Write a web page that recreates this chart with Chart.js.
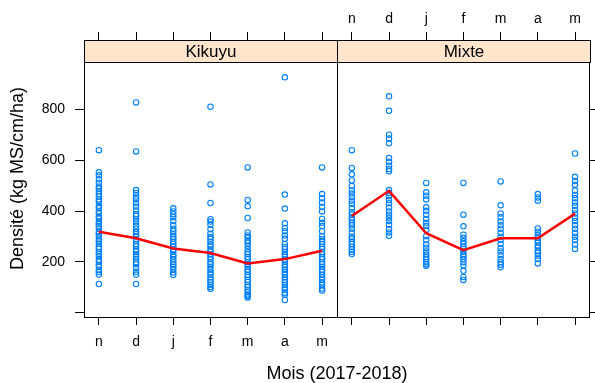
<!DOCTYPE html>
<html>
<head>
<meta charset="utf-8">
<script src="https://cdn.jsdelivr.net/npm/chart.js@4.4.0/dist/chart.umd.min.js"></script>
<style>
  body { margin: 0; background: #fff; }
  canvas { display: block; }
</style>
</head>
<body>
<canvas id="myChart" width="595" height="383"></canvas>
<script>
// month labels (Nov 2017 -> May 2018)
var months = ["n", "d", "j", "f", "m", "a", "m"];
var panels = ["Kikuyu", "Mixte"];
var yTicks = [0, 200, 400, 600, 800];

// observations per month, Kikuyu
var kikN = [640, 553, 541, 526, 512, 497, 489, 478, 467, 458, 446, 437, 421, 412, 398, 391, 379, 372, 358, 349, 341, 332, 318, 311, 302, 288, 281, 272, 259, 251, 238, 231, 222, 208, 201, 188, 182, 168, 160, 150, 113];
var kikD = [828, 635, 483, 471, 458, 447, 431, 418, 402, 389, 381, 368, 356, 342, 331, 318, 309, 301, 289, 282, 271, 262, 249, 241, 229, 221, 212, 199, 191, 176, 161, 150, 113];
var kikJ = [411, 399, 388, 376, 361, 344, 331, 322, 309, 298, 291, 279, 271, 262, 249, 241, 228, 221, 211, 199, 189, 181, 171, 158, 148];
var kikF = [811, 505, 432, 368, 359, 346, 329, 311, 298, 291, 279, 268, 261, 249, 241, 229, 219, 211, 198, 191, 181, 169, 158, 151, 139, 129, 121, 109, 101, 94];
var kikM = [572, 444, 419, 373, 316, 304, 296, 284, 276, 264, 251, 239, 231, 219, 211, 199, 191, 181, 169, 161, 149, 141, 129, 121, 109, 101, 89, 81, 72, 66, 60];
var kikA = [927, 465, 410, 352, 334, 321, 304, 291, 271, 259, 251, 239, 229, 221, 209, 201, 189, 181, 169, 159, 151, 139, 129, 121, 109, 99, 91, 79, 71, 50];
var kikM2 = [572, 467, 451, 434, 416, 399, 369, 354, 341, 321, 301, 289, 279, 271, 259, 251, 239, 231, 219, 211, 199, 191, 181, 169, 161, 149, 139, 131, 119, 109, 95, 87];

// observations per month, Mixte
var mixN = [640, 570, 545, 521, 499, 481, 469, 456, 441, 429, 411, 396, 386, 374, 366, 354, 344, 331, 316, 299, 291, 279, 271, 259, 249, 240, 231];
var mixD = [852, 795, 701, 686, 667, 609, 594, 579, 566, 557, 483, 471, 459, 444, 431, 414, 399, 386, 374, 361, 346, 329, 316, 303];
var mixJ = [511, 474, 461, 446, 415, 401, 386, 369, 354, 341, 326, 301, 286, 269, 256, 241, 229, 219, 211, 199, 191, 185];
var mixF = [511, 386, 340, 307, 294, 281, 271, 259, 251, 241, 229, 221, 211, 199, 186, 165, 141, 129];
var mixM = [517, 423, 391, 376, 359, 344, 331, 314, 299, 286, 271, 254, 241, 226, 211, 199, 189, 179];
var mixA = [467, 454, 441, 332, 319, 306, 294, 284, 276, 264, 256, 244, 236, 224, 211, 194];
var mixM2 = [627, 535, 519, 504, 481, 464, 451, 434, 421, 404, 391, 374, 361, 344, 331, 314, 299, 286, 269, 251];

// red line: monthly average per panel
var kikMean = [319, 293, 253, 235, 194, 211, 244];
var mixMean = [381, 480, 313, 246, 293, 293, 390];

var kikuyu = [kikN, kikD, kikJ, kikF, kikM, kikA, kikM2];
var mixte = [mixN, mixD, mixJ, mixF, mixM, mixA, mixM2];

// each panel spans 6.8 x-units; second panel shifted by 6.8
var SHIFT = 6.8;
var X_MIN = 0.6, X_MAX = 0.6 + 2 * SHIFT;
var Y_MIN = -17, Y_MAX = 1074;

var tickPos = [];
for (var p = 0; p < 2; p++) {
  for (var i = 0; i < months.length; i++) tickPos.push(i + 1 + p * SHIFT);
}

function points(groups, offset) {
  var out = [];
  groups.forEach(function (vals, i) {
    vals.forEach(function (v) { out.push({ x: i + 1 + offset, y: v }); });
  });
  return out;
}
function meanLine(vals, offset) {
  return vals.map(function (v, i) { return { x: i + 1 + offset, y: v }; });
}

var pointStyle = {
  type: "scatter",
  pointRadius: 2.7,
  pointBorderWidth: 1.1,
  borderColor: "#0080ff",
  backgroundColor: "rgba(0,0,0,0)",
  order: 2,
};
var lineStyle = {
  type: "scatter",
  showLine: true,
  borderColor: "#ff0000",
  borderWidth: 2.5,
  pointRadius: 0,
  order: 1,
};

var FONT = "'Liberation Sans', Arial, Helvetica, sans-serif";
var STRIP_H = 22;

// strips and panel separator
var panelPlugin = {
  id: "panels",
  beforeDatasetsDraw: function (chart) {
    var ctx = chart.ctx;
    var area = chart.chartArea;
    var xs = chart.scales.x;
    var edges = [area.left, xs.getPixelForValue(X_MIN + SHIFT), area.right];
    ctx.save();
    for (var p = 0; p < 2; p++) {
      var l = Math.round(edges[p]) + 0.5, r = Math.round(edges[p + 1]) + 0.5;
      var t = Math.round(area.top) + 0.5;
      ctx.fillStyle = "#ffe5cc";
      ctx.fillRect(l, t, r - l, STRIP_H);
      ctx.strokeStyle = "#000";
      ctx.lineWidth = 1;
      ctx.strokeRect(l, t, r - l, STRIP_H);
      ctx.fillStyle = "#000";
      ctx.font = "17px " + FONT;
      ctx.textAlign = "center";
      ctx.textBaseline = "middle";
      ctx.fillText(panels[p], (l + r) / 2, t + STRIP_H / 2 + 1);
    }
    var sx = Math.round(edges[1]) + 0.5;
    ctx.beginPath();
    ctx.moveTo(sx, area.top);
    ctx.lineTo(sx, area.bottom);
    ctx.stroke();
    ctx.restore();
  },
};

function setTicks(positions) {
  return function (scale) {
    scale.ticks = positions.map(function (v) { return { value: v }; });
  };
}

var gridOpts = function (len) {
  return {
    drawOnChartArea: false,
    drawTicks: true,
    tickLength: len,
    tickColor: "#000",
    color: "#000",
  };
};
var borderOpts = { display: true, color: "#000", width: 1 };

const ctx = document.getElementById("myChart");
const myChart = new Chart(ctx, {
  type: "scatter",
  data: {
    datasets: [
      Object.assign({ label: "Kikuyu", data: points(kikuyu, 0) }, pointStyle),
      Object.assign({ label: "Mixte", data: points(mixte, SHIFT) }, pointStyle),
      Object.assign({ label: "Kikuyu moyenne", data: meanLine(kikMean, 0) }, lineStyle),
      Object.assign({ label: "Mixte moyenne", data: meanLine(mixMean, SHIFT) }, lineStyle),
    ],
  },
  options: {
    responsive: false,
    animation: false,
    layout: { padding: 0 },
    plugins: {
      legend: { display: false },
      tooltip: { enabled: false },
    },
    scales: {
      x: {
        type: "linear",
        position: "bottom",
        min: X_MIN,
        max: X_MAX,
        afterBuildTicks: setTicks(tickPos),
        afterFit: function (s) { s.height = 66; },
        grid: gridOpts(8),
        border: borderOpts,
        ticks: {
          autoSkip: false,
          maxRotation: 0,
          padding: 9,
          color: "#000",
          font: { size: 14, family: FONT },
          callback: function (v, i) { return i < months.length ? months[i] : ""; },
        },
        title: {
          display: true,
          text: "Mois (2017-2018)",
          color: "#000",
          font: { size: 18, family: FONT, lineHeight: 1 },
          padding: { top: 0, bottom: 0 },
        },
      },
      x2: {
        type: "linear",
        position: "top",
        min: X_MIN,
        max: X_MAX,
        afterBuildTicks: setTicks(tickPos),
        afterFit: function (s) { s.height = 40; },
        grid: gridOpts(8),
        border: borderOpts,
        ticks: {
          autoSkip: false,
          maxRotation: 0,
          padding: 4,
          color: "#000",
          font: { size: 14, family: FONT },
          callback: function (v, i) { return i >= months.length ? months[i - months.length] : ""; },
        },
      },
      y: {
        type: "linear",
        position: "left",
        min: Y_MIN,
        max: Y_MAX,
        afterBuildTicks: setTicks(yTicks),
        afterFit: function (s) { s.width = 84; },
        grid: gridOpts(9),
        border: borderOpts,
        ticks: {
          padding: 10,
          color: "#000",
          font: { size: 14, family: FONT },
          callback: function (v) { return v === 0 ? "" : String(v); },
        },
        title: {
          display: true,
          text: "Densité (kg MS/cm/ha)",
          color: "#000",
          font: { size: 18, family: FONT, lineHeight: 1 },
          padding: { top: 9, bottom: 0 },
        },
      },
      y2: {
        type: "linear",
        position: "right",
        min: Y_MIN,
        max: Y_MAX,
        afterBuildTicks: setTicks(yTicks),
        afterFit: function (s) { s.width = 1; },
        grid: gridOpts(8),
        border: borderOpts,
        ticks: { display: false },
      },
    },
  },
  plugins: [panelPlugin],
});
</script>
</body>
</html>
